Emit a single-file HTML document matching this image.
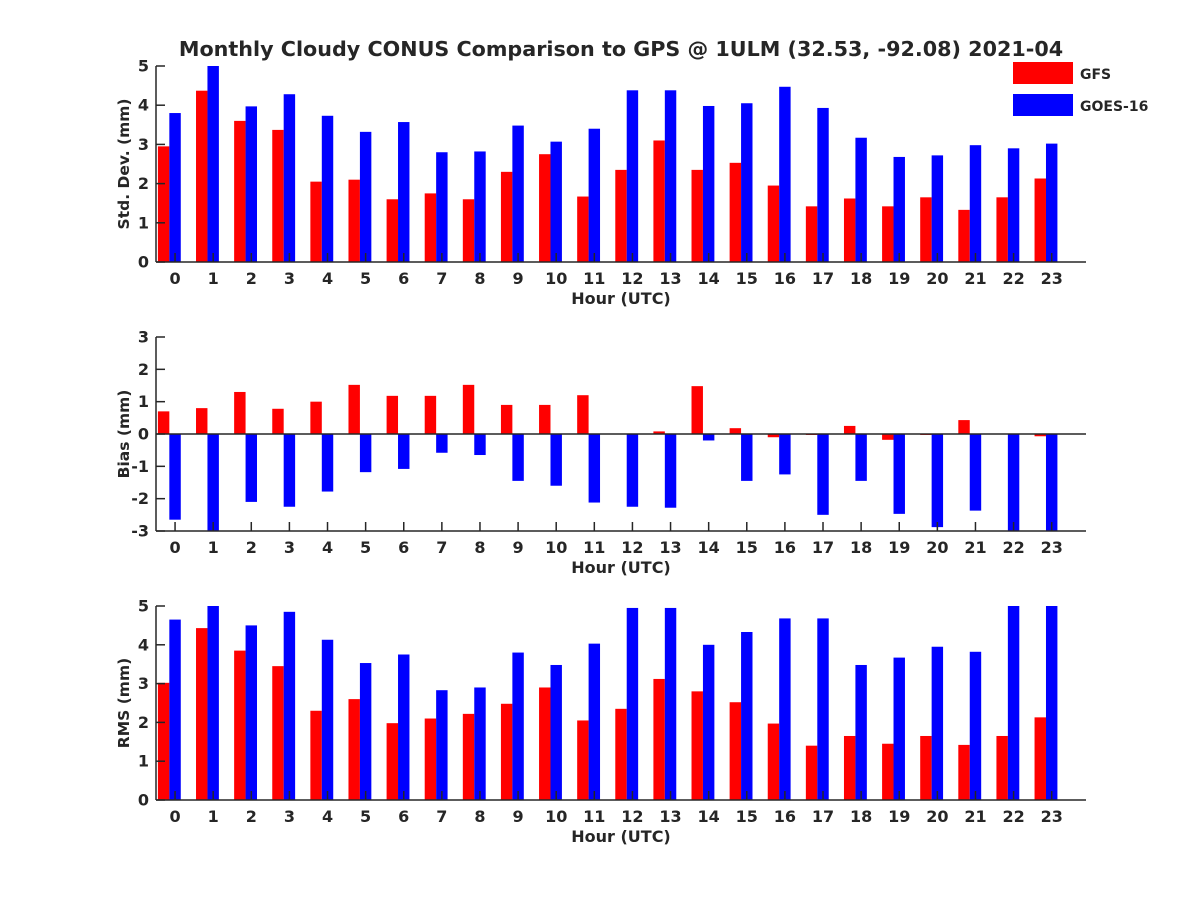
<!DOCTYPE html>
<html><head><meta charset="utf-8"><style>
body{margin:0;background:#fff}
text{font-family:"DejaVu Sans","Liberation Sans",sans-serif;font-weight:bold;fill:#262626}
</style></head><body>
<svg id="chart" width="1200" height="900" xmlns="http://www.w3.org/2000/svg">
<rect width="1200" height="900" fill="#fff"/>
<text x="621" y="56" font-size="20.7" text-anchor="middle" fill="#000">Monthly Cloudy CONUS Comparison to GPS @ 1ULM (32.53, -92.08) 2021-04</text>
<g>
<rect x="1013" y="62" width="60" height="22" fill="#ff0000"/>
<text x="1080" y="79" font-size="14">GFS</text>
<rect x="1013" y="94" width="60" height="22" fill="#0000ff"/>
<text x="1080" y="111" font-size="14">GOES-16</text>
</g>
</svg>
<script>
const hours = [0,1,2,3,4,5,6,7,8,9,10,11,12,13,14,15,16,17,18,19,20,21,22,23];
const stdGFS = [2.95,4.37,3.6,3.37,2.05,2.1,1.6,1.75,1.6,2.3,2.75,1.67,2.35,3.1,2.35,2.53,1.95,1.42,1.62,1.42,1.65,1.33,1.65,2.13];
const stdGOES = [3.8,5.3,3.97,4.28,3.73,3.32,3.57,2.8,2.82,3.48,3.07,3.4,4.38,4.38,3.98,4.05,4.47,3.93,3.17,2.68,2.72,2.98,2.9,3.02];
const biasGFS = [0.7,0.8,1.3,0.78,1.0,1.52,1.18,1.18,1.52,0.9,0.9,1.2,0.0,0.08,1.48,0.18,-0.1,-0.03,0.25,-0.18,-0.03,0.43,0.0,-0.07];
const biasGOES = [-2.65,-3.2,-2.1,-2.25,-1.78,-1.18,-1.08,-0.58,-0.65,-1.45,-1.6,-2.12,-2.25,-2.28,-0.2,-1.45,-1.25,-2.5,-1.45,-2.47,-2.88,-2.37,-3.2,-3.2];
const rmsGFS = [3.02,4.43,3.85,3.45,2.3,2.6,1.98,2.1,2.22,2.48,2.9,2.05,2.35,3.12,2.8,2.52,1.97,1.4,1.65,1.45,1.65,1.42,1.65,2.13];
const rmsGOES = [4.65,5.2,4.5,4.85,4.13,3.53,3.75,2.83,2.9,3.8,3.48,4.03,4.95,4.95,4.0,4.33,4.68,4.68,3.48,3.67,3.95,3.82,5.2,5.2];
const stdTicks = [0,1,2,3,4,5];
const biasTicks = [-3,-2,-1,0,1,2,3];
const rmsTicks = [0,1,2,3,4,5];

const NS = "http://www.w3.org/2000/svg";
const svg = document.getElementById('chart');
const X0 = 156, X1 = 1086, XMIN = -0.5, XMAX = 23.9;
function xs(v){ return X0 + (v - XMIN) / (XMAX - XMIN) * (X1 - X0); }
function mk(tag, attrs, parent){ const e = document.createElementNS(NS, tag); for (const k in attrs) e.setAttribute(k, attrs[k]); (parent||svg).appendChild(e); return e; }

function panel(name, top, bottom, ymin, ymax, ticks, red, blue, ylabel){
  const g = mk('g', {});
  
  
  const ys = v => bottom - (v - ymin) / (ymax - ymin) * (bottom - top);
  const clip = mk('clipPath', {id: 'clip-' + name}, g);
  mk('rect', {x: X0, y: top, width: X1 - X0, height: bottom - top}, clip);
  const bars = mk('g', {'clip-path': 'url(#clip-' + name + ')'}, g);
  const w = (xs(0.3) - xs(0));
  const base = ys(Math.max(ymin, 0));
  hours.forEach((h, i) => {
    [[red[i], -0.3, '#ff0000', 'gfs'], [blue[i], 0, '#0000ff', 'goes16']].forEach(([v, off, col, s]) => {
      const yv = ys(v);
      const r = mk('rect', {x: xs(h + off) - w / 2, y: Math.min(yv, base), width: w, height: Math.abs(yv - base), fill: col}, bars);
      
      
    });
  });
  if (ymin < 0) mk('line', {x1: X0, x2: X1, y1: ys(0), y2: ys(0), stroke: '#262626', 'stroke-width': 1.5}, g);
  mk('line', {x1: X0, x2: X1, y1: bottom, y2: bottom, stroke: '#262626', 'stroke-width': 1.5}, g);
  mk('line', {x1: X0, x2: X0, y1: top, y2: bottom, stroke: '#262626', 'stroke-width': 1.5}, g);
  ticks.forEach(t => {
    mk('line', {x1: X0, x2: X0 + 9, y1: ys(t), y2: ys(t), stroke: '#262626', 'stroke-width': 1.5}, g);
    const tx = mk('text', {x: X0 - 7, y: ys(t) + 5.5, 'font-size': 16, 'text-anchor': 'end'}, g);
    tx.textContent = t;
    
    
  });
  hours.forEach(h => {
    mk('line', {x1: xs(h), x2: xs(h), y1: bottom, y2: bottom - 9, stroke: '#262626', 'stroke-width': 1.5}, g);
    const tx = mk('text', {x: xs(h), y: bottom + 22, 'font-size': 16, 'text-anchor': 'middle'}, g);
    tx.textContent = h;
    
    
  });
  const xl = mk('text', {x: 621, y: bottom + 42, 'font-size': 16, 'text-anchor': 'middle'}, g);
  xl.textContent = 'Hour (UTC)';
  
  
  const cy = (top + bottom) / 2;
  const yl = mk('text', {x: 129, y: cy, 'font-size': 15.5, 'text-anchor': 'middle', transform: 'rotate(-90 129 ' + cy + ')'}, g);
  yl.textContent = ylabel;
  
  
}
panel('std', 66, 262, 0, 5, stdTicks, stdGFS, stdGOES, 'Std. Dev. (mm)');
panel('bias', 337, 531, -3, 3, biasTicks, biasGFS, biasGOES, 'Bias (mm)');
panel('rms', 606, 800, 0, 5, rmsTicks, rmsGFS, rmsGOES, 'RMS (mm)');
</script>
</body></html>
